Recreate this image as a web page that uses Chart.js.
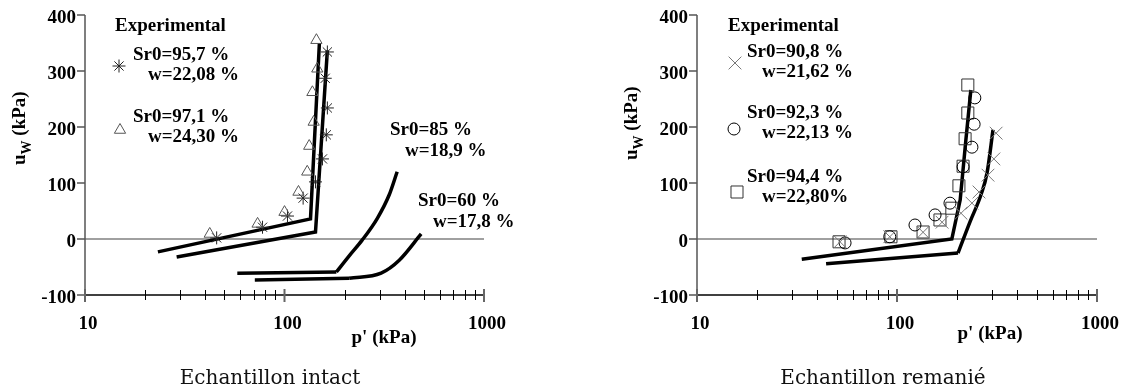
<!DOCTYPE html>
<html>
<head>
<meta charset="utf-8">
<script src="https://cdn.jsdelivr.net/npm/chart.js@4.4.0/dist/chart.umd.min.js"></script>
<style>
body { margin: 0; background: #fff; width: 1125px; height: 392px; overflow: hidden; position: relative; }
.panel { position: absolute; top: 0; height: 392px; }
.caption { position: absolute; top: 365px; font: 20px "DejaVu Serif"; line-height: 24px; color: #111; white-space: nowrap; transform: translateX(-50%); }
</style>
</head>
<body>
<div class="panel" style="left:0;width:560px"><canvas id="intact"></canvas></div>
<div class="panel" style="left:560px;width:565px"><canvas id="remanie"></canvas></div>
<div class="caption" style="left:270px">Echantillon intact</div>
<div class="caption" style="left:883px">Echantillon remanié</div>
<script>
// axes
const uTicks = [-100, 0, 100, 200, 300, 400]
const pLabels = [10, 100, 1000]
const pMinor = [20, 30, 40, 50, 60, 70, 80, 90, 200, 300, 400, 500, 600, 700, 800, 900]

// Echantillon intact : courbes
const intA_p = [23.2, 135, 149.6]
const intA_u = [-23, 36, 350]
const intB_p = [28.8, 143, 164]
const intB_u = [-32, 12.5, 337]
const int85_p = [58, 182, 211, 245, 292, 335, 367]
const int85_u = [-61, -59, -30, -2, 37, 79, 120]
const int60_p = [71, 211, 305, 376, 484]
const int60_u = [-73, -70, -61, -38, 9]
// Echantillon intact : experimental
const star_p = [45.7, 77.6, 103.5, 124, 143, 155, 162, 164, 160, 164]
const star_u = [2, 21, 41, 73, 102, 143, 186, 234, 287, 334]
const tri_p = [42.2, 73.3, 100, 117.5, 130, 133, 140, 138, 146, 144.5]
const tri_u = [9, 27, 48, 84, 120, 166, 209, 262, 304, 355]

// Echantillon remanie : courbes
const remA_p = [33.4, 188, 207, 221, 234]
const remA_u = [-36, 0, 70, 177, 266]
const remB_p = [44.2, 202, 232, 263, 282, 302]
const remB_u = [-44, -25, 31, 79, 118, 195]
// Echantillon remanie : experimental
const cross_p = [51.9, 92, 135, 168, 209, 237, 257, 285, 305, 313]
const cross_u = [-5, 4, 12, 30, 46, 64, 84, 114, 143, 189]
const circ_p = [55, 92, 123, 155, 184, 214, 237, 243, 245]
const circ_u = [-7, 4, 25, 43, 64, 129, 164, 205, 252]
const sq_p = [51.3, 93.3, 135, 164, 188, 204, 214, 219, 226, 226]
const sq_u = [-5, 4, 12.5, 34, 55, 95, 130, 179, 225, 275]

const FONT = 'bold 19px "Liberation Serif"'
const SUBFONT = 'bold 14px "Liberation Serif"'

const pts = (ps, us) => ps.map((p, i) => ({ x: p, y: us[i] }))

function curve(ps, us, smooth) {
    const ds = { data: pts(ps, us), showLine: true, borderColor: "#000", borderWidth: 3.5,
        pointRadius: 0, pointHoverRadius: 0, fill: false, borderJoinStyle: "miter" }
    if (smooth) ds.cubicInterpolationMode = "monotone"
    return ds
}
// straight part up to the bend (index k), smooth part after it
function bent(ps, us, k) {
    return [curve(ps.slice(0, k + 1), us.slice(0, k + 1)), curve(ps.slice(k), us.slice(k), true)]
}
function marks(ps, us, style, r, color) {
    return { data: pts(ps, us), showLine: false, pointStyle: style, pointRadius: r,
        pointBorderColor: color, pointBackgroundColor: "rgba(0,0,0,0)", pointBorderWidth: 1 }
}

function marker(ctx, style, r, color, x, y) {
    ctx.save()
    ctx.strokeStyle = color
    ctx.fillStyle = "rgba(0,0,0,0)"
    ctx.lineWidth = 1
    Chart.helpers.drawPoint(ctx, { pointStyle: style, radius: r, rotation: 0, borderWidth: 1 }, x, y)
    ctx.restore()
}

// axes, ticks and texts of one panel
function decor(cfg) {
    return {
        id: "decor",
        beforeDatasetsDraw(chart) {
            const { ctx, chartArea: a, scales: { y } } = chart
            ctx.save()
            ctx.strokeStyle = "#808080"
            ctx.lineWidth = 1.5
            ctx.beginPath()
            ctx.moveTo(a.left, y.getPixelForValue(0))
            ctx.lineTo(a.right, y.getPixelForValue(0))
            ctx.stroke()
            ctx.restore()
        },
        afterDatasetsDraw(chart) {
            const { ctx, chartArea: a, scales: { x, y } } = chart
            ctx.save()
            // y axis
            ctx.strokeStyle = "#555"
            ctx.lineWidth = 1.5
            ctx.beginPath()
            ctx.moveTo(a.left, a.top)
            ctx.lineTo(a.left, a.bottom)
            uTicks.forEach(v => {
                const py = y.getPixelForValue(v)
                ctx.moveTo(a.left - 8, py)
                ctx.lineTo(a.left, py)
            })
            ctx.stroke()
            // x axis
            ctx.strokeStyle = "#000"
            ctx.beginPath()
            ctx.moveTo(a.left, a.bottom)
            ctx.lineTo(a.right, a.bottom)
            ctx.stroke()
            ctx.lineWidth = 1
            ctx.beginPath()
            pMinor.forEach(v => {
                const px = Math.round(x.getPixelForValue(v)) + 0.5
                ctx.moveTo(px, a.bottom - 5)
                ctx.lineTo(px, a.bottom + 5)
            })
            ctx.stroke()
            ctx.strokeStyle = "#666"
            ctx.lineWidth = 2
            ctx.beginPath()
            pLabels.forEach(v => {
                const px = x.getPixelForValue(v)
                ctx.moveTo(px, a.bottom - 6)
                ctx.lineTo(px, a.bottom + 7)
            })
            ctx.stroke()

            ctx.fillStyle = "#000"
            ctx.font = FONT
            ctx.textAlign = "right"
            ctx.textBaseline = "middle"
            uTicks.forEach(v => ctx.fillText(String(v), a.left - 9, y.getPixelForValue(v) + 3))
            ctx.textAlign = "center"
            ctx.textBaseline = "alphabetic"
            pLabels.forEach(v => ctx.fillText(String(v), x.getPixelForValue(v) + 3, a.bottom + 34))
            ctx.fillText("p' (kPa)", a.left + cfg.xTitle[0], cfg.xTitle[1])

            // y title u_W (kPa)
            ctx.save()
            ctx.translate(a.left - 60, cfg.yTitleBottom)
            ctx.rotate(-Math.PI / 2)
            ctx.textAlign = "left"
            ctx.font = FONT
            ctx.fillText("u", 0, 0)
            let w = ctx.measureText("u").width
            ctx.font = SUBFONT
            ctx.fillText("W", w, 6)
            w += ctx.measureText("W").width
            ctx.font = FONT
            ctx.fillText(" (kPa)", w, 0)
            ctx.restore()

            // legend / annotations
            ctx.textAlign = "left"
            ctx.textBaseline = "middle"
            ctx.font = FONT
            cfg.texts.forEach(t => ctx.fillText(t[0], t[1], t[2]))
            cfg.marks.forEach(m => marker(ctx, m[0], m[1], m[2], m[3], m[4]))
            ctx.restore()
        }
    }
}

function makeChart(id, datasets, padRight, padLeft, cfg) {
    return new Chart(document.getElementById(id), {
        type: "scatter",
        data: { datasets: datasets },
        options: {
            responsive: true,
            maintainAspectRatio: false,
            animation: false,
            events: [],
            layout: { padding: { left: padLeft, right: padRight, top: 15, bottom: 97 } },
            plugins: { legend: { display: false }, tooltip: { enabled: false } },
            scales: {
                x: { type: "logarithmic", min: 10, max: 1000, display: false },
                y: { type: "linear", min: -100, max: 400, display: false }
            }
        },
        plugins: [decor(cfg)]
    })
}

makeChart("intact", [
    marks(tri_p, tri_u, "triangle", 6.5, "#555"),
    marks(star_p, star_u, "star", 6.5, "#222"),
    curve(intA_p, intA_u),
    curve(intB_p, intB_u),
    ...bent(int85_p, int85_u, 1),
    ...bent(int60_p, int60_u, 1)
], 76, 85, {
    xTitle: [299, 343],
    yTitleBottom: 165,
    texts: [
        ["Experimental", 115, 26],
        ["Sr0=95,7 %", 133, 55],
        ["w=22,08 %", 148, 75],
        ["Sr0=97,1 %", 133, 117],
        ["w=24,30 %", 148, 137],
        ["Sr0=85 %", 390, 130],
        ["w=18,9 %", 405, 151],
        ["Sr0=60 %", 418, 201],
        ["w=17,8 %", 433, 222]
    ],
    marks: [
        ["star", 6.5, "#222", 119, 66],
        ["triangle", 6.5, "#555", 120, 130]
    ]
})

makeChart("remanie", [
    marks(cross_p, cross_u, "crossRot", 9, "#777"),
    marks(circ_p, circ_u, "circle", 6, "#000"),
    marks(sq_p, sq_u, "rect", 8.5, "#333"),
    curve(remA_p, remA_u),
    ...bent(remB_p, remB_u, 1)
], 28, 137, {
    xTitle: [293, 339],
    yTitleBottom: 160,
    texts: [
        ["Experimental", 168, 26],
        ["Sr0=90,8 %", 187, 52],
        ["w=21,62 %", 202, 72],
        ["Sr0=92,3 %", 187, 113],
        ["w=22,13 %", 202, 133],
        ["Sr0=94,4 %", 187, 177],
        ["w=22,80%", 202, 197]
    ],
    marks: [
        ["crossRot", 9, "#777", 175, 63],
        ["circle", 6, "#000", 174, 129],
        ["rect", 8.5, "#333", 177, 192]
    ]
})
</script>
</body>
</html>
